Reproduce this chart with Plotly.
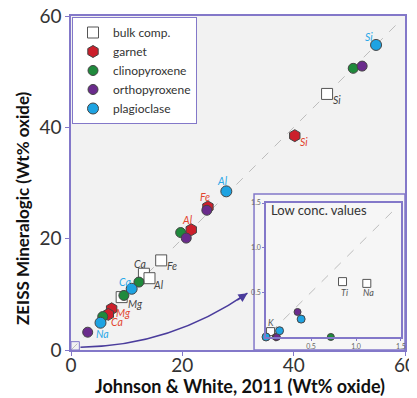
import plotly.graph_objects as go

# ---------------- data (main panel, Wt% oxide) ----------------
bulk_x = [46.0, 16.2, 13.1, 14.1, 9.1]
bulk_y = [46.0, 16.1, 13.7, 12.9, 9.5]
bulk_lab = ["Si", "Fe", "Ca", "Al", "Mg"]

garnet_x = [40.2, 24.6, 21.6, 7.3, 6.7]
garnet_y = [38.5, 25.7, 21.6, 7.4, 6.4]
garnet_lab = ["Si", "Fe", "Al", "Mg", "Ca"]

cpx_x = [50.7, 19.7, 12.2, 9.5, 5.7]
cpx_y = [50.6, 21.1, 12.2, 9.8, 6.0]

opx_x = [52.3, 24.4, 20.7, 3.0]
opx_y = [51.0, 25.1, 20.1, 3.2]

plag_x = [54.8, 27.9, 10.9, 5.3]
plag_y = [54.8, 28.5, 11.0, 4.9]
plag_lab = ["Si", "Al", "Ca", "Na"]

# ---------------- data (inset, low concentrations) ----------------
bulk_low_x = [0.05, 0.85, 1.12]
bulk_low_y = [0.06, 0.62, 0.60]
bulk_low_lab = ["K", "Ti", "Na"]

garnet_low_x = [0.11]
garnet_low_y = [0.0]

cpx_low_x = [0.72]
cpx_low_y = [0.0]

opx_low_x = [0.35, 0.12]
opx_low_y = [0.28, 0.0]

plag_low_x = [0.39, 0.15, 0.0]
plag_low_y = [0.20, 0.07, 0.0]

main_ticks = [0, 20, 40, 60]
inset_ticks = [0.5, 1.0, 1.5]
one_to_one_main = [0, 59]
one_to_one_inset = [0.05, 1.45]

# ---------------- styles ----------------
PURPLE = "#8378c9"
ARROW = "#4a3c9c"
C_GARNET = "#cc1f2b"
C_CPX = "#1f8a3c"
C_OPX = "#6a2b8c"
C_PLAG = "#1ea3e2"
OUTL = "#444444"
FONT = "Lato"

# label pixel offsets (dx right, dy down)
bulk_off = [(10, 6), (11, 6), (-4, -10), (9, 7), (14, 7)]
garnet_off = [(9, 6), (-3, -10), (-4, -10), (12, 4), (9, 8)]
plag_off = [(-7, -8), (-4, -10), (-7, -7), (2, 11)]
bulk_low_off = [(0, -9), (2, 11), (2, 9)]

fig = go.Figure()

# 1:1 lines
fig.add_trace(go.Scatter(x=one_to_one_main, y=one_to_one_main, mode="lines",
                         line=dict(color="#bdbdbd", width=1, dash="dash"),
                         showlegend=False, hoverinfo="skip"))
fig.add_trace(go.Scatter(x=one_to_one_inset, y=one_to_one_inset, mode="lines",
                         line=dict(color="#bdbdbd", width=1, dash="dash"),
                         showlegend=False, hoverinfo="skip", xaxis="x2", yaxis="y2"))

def add(name, xs, ys, color, symbol, size, xs2, ys2, size2):
    lc = OUTL if color != "white" else "#555555"
    fig.add_trace(go.Scatter(
        x=xs, y=ys, mode="markers", name=name, legendgroup=name,
        marker=dict(color=color, symbol=symbol, size=size, line=dict(color=lc, width=1)),
        cliponaxis=False))
    fig.add_trace(go.Scatter(
        x=xs2, y=ys2, mode="markers", name=name, legendgroup=name, showlegend=False,
        marker=dict(color=color, symbol=symbol, size=size2, line=dict(color=lc, width=1)),
        cliponaxis=False, xaxis="x2", yaxis="y2"))

add("bulk comp.", bulk_x, bulk_y, "white", "square", 11, bulk_low_x, bulk_low_y, 8)
add("garnet", garnet_x, garnet_y, C_GARNET, "hexagon", 12, garnet_low_x, garnet_low_y, 8)
add("clinopyroxene", cpx_x, cpx_y, C_CPX, "circle", 10, cpx_low_x, cpx_low_y, 7)
add("orthopyroxene", opx_x, opx_y, C_OPX, "circle", 10, opx_low_x, opx_low_y, 7)
add("plagioclase", plag_x, plag_y, C_PLAG, "circle", 11, plag_low_x, plag_low_y, 8)

ann = []
def labels(xs, ys, labs, offs, color, xr="x", yr="y", size=10.5):
    for x, y, t, (dx, dy) in zip(xs, ys, labs, offs):
        ann.append(dict(x=x, y=y, xref=xr, yref=yr, text="<i>%s</i>" % t,
                        showarrow=False, xshift=dx, yshift=-dy,
                        font=dict(family=FONT, size=size, color=color)))

labels(bulk_x, bulk_y, bulk_lab, bulk_off, "#444444")
labels(garnet_x, garnet_y, garnet_lab, garnet_off, "#e2452f")
labels(plag_x, plag_y, plag_lab, plag_off, "#2aa8e8")
labels(bulk_low_x, bulk_low_y, bulk_low_lab, bulk_low_off, "#555555", "x2", "y2", 9)

# axis titles
ann.append(dict(x=0.506, y=-0.108, xref="paper", yref="paper", showarrow=False,
                text="<b>Johnson &amp; White, 2011 (Wt% oxide)</b>",
                font=dict(family=FONT, size=18, color="#111111"),
                xanchor="center", yanchor="middle"))
ann.append(dict(x=-0.147, y=0.425, xref="paper", yref="paper", showarrow=False,
                text="<b>ZEISS Mineralogic (Wt% oxide)</b>", textangle=-90,
                font=dict(family=FONT, size=17, color="#111111"),
                xanchor="center", yanchor="middle"))
# inset title
ann.append(dict(x=0.03, y=1.42, xref="x2", yref="y2", showarrow=False,
                text="Low conc. values", xanchor="left", yanchor="middle",
                font=dict(family=FONT, size=13, color="#333333")))
# arrow head
ann.append(dict(x=31.7, y=10.2, ax=29.6, ay=8.8, xref="x", yref="y",
                axref="x", ayref="y", showarrow=True, arrowhead=2,
                arrowsize=1.2, arrowwidth=1.5, arrowcolor=ARROW, text=""))

shapes = [
    dict(type="rect", xref="paper", yref="paper", x0=0, x1=1, y0=0, y1=1,
         fillcolor="#f2f2f2", line=dict(width=0), layer="below"),
    dict(type="rect", xref="paper", yref="paper", x0=0.548, x1=1, y0=0, y1=0.467,
         fillcolor="#f6f6f6", line=dict(color=PURPLE, width=1.5), layer="below"),
    dict(type="rect", xref="x", yref="y", x0=0, x1=1.5, y0=0, y1=1.5,
         line=dict(color=PURPLE, width=1)),
    dict(type="path", xref="x", yref="y",
         path="M 1.7,0.5 C 12,0.6 22,3.5 31.7,10.2",
         line=dict(color=ARROW, width=1.5)),
]

ax_common = dict(showline=True, mirror=True, linecolor=PURPLE, linewidth=1.5,
                 showgrid=False, zeroline=False, ticks="outside", tickcolor=PURPLE,
                 automargin=False, ticklabeloverflow="allow")

# the page body has an 8px margin: the figure is sized so the plot area
# lands at x 71..405, y 16..350 of the 417x398 window
fig.update_layout(
    width=409, height=390,
    margin=dict(l=63, r=12, t=8, b=48, autoexpand=False),
    paper_bgcolor="white", plot_bgcolor="rgba(0,0,0,0)",
    font=dict(family=FONT, color="#333333"),
    xaxis=dict(range=[0, 60], tickvals=main_ticks, ticklen=4, ticklabelstandoff=-7,
               tickfont=dict(size=19, color="#333333"), domain=[0, 1], **ax_common),
    yaxis=dict(range=[0, 60], tickvals=main_ticks, ticklen=4,
               tickfont=dict(size=19, color="#333333"), domain=[0, 1], **ax_common),
    xaxis2=dict(range=[0, 1.5], tickvals=inset_ticks, ticklen=2,
                tickfont=dict(size=7, color="#666666"), domain=[0.584, 0.988],
                anchor="y2", tickformat=".1f", **ax_common),
    yaxis2=dict(range=[0, 1.5], tickvals=inset_ticks, ticklen=2,
                tickfont=dict(size=7, color="#666666"), domain=[0.039, 0.440],
                anchor="x2", tickformat=".1f", **ax_common),
    legend=dict(x=0.003, y=0.997, xanchor="left", yanchor="top",
                bgcolor="white", bordercolor=PURPLE, borderwidth=1,
                font=dict(family=FONT, size=12, color="#333333"),
                tracegroupgap=0, itemwidth=30),
    annotations=ann, shapes=shapes,
)

fig.write_html("out.html")
